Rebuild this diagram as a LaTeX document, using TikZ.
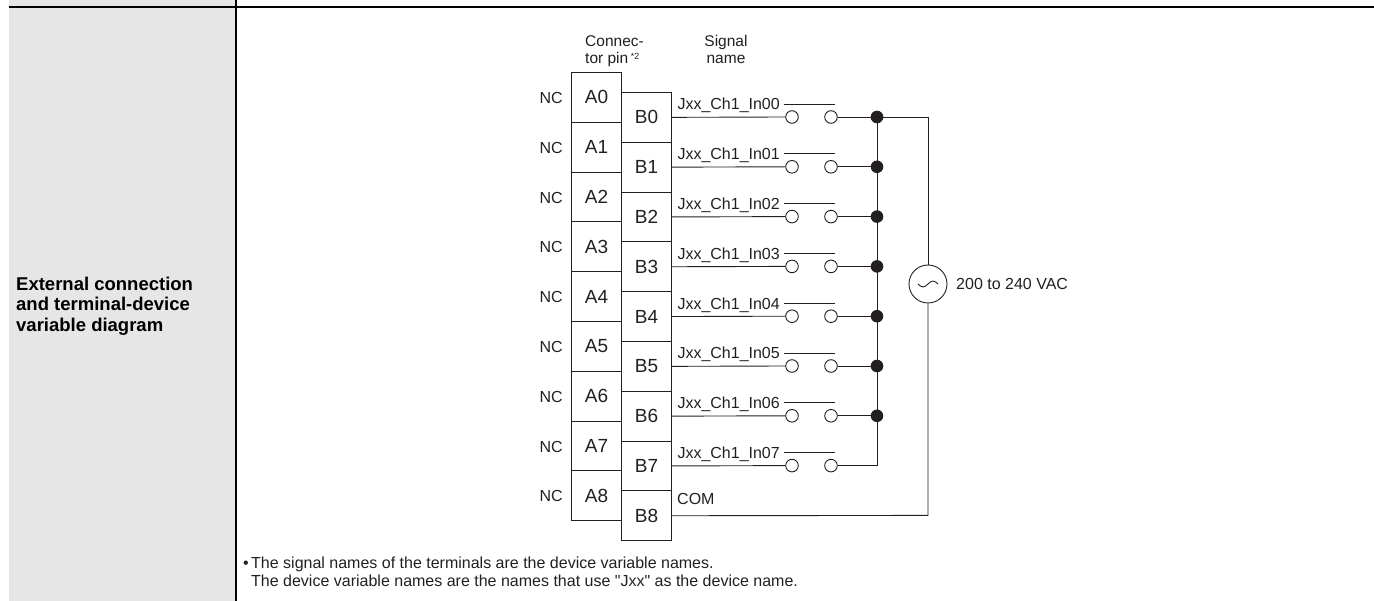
\documentclass[tikz,border=0pt]{standalone}
\usepackage{fontspec}
\setmainfont{Liberation Sans}[Ligatures=TeXOff]
\definecolor{panel}{HTML}{E6E6E6}
\definecolor{ink}{HTML}{231F20}
\begin{document}
\begin{tikzpicture}[x=1pt,y=-1pt,
  pinbox/.style={draw=ink,line width=0.9pt,minimum width=50pt,minimum height=49.8pt,inner sep=0pt,font=\fontsize{19}{19}\selectfont,text=ink},
  lbl/.style={inner sep=0pt,font=\fontsize{16}{16}\selectfont,text=ink},
  hdr/.style={inner sep=0pt,font=\fontsize{15.5}{15.5}\selectfont,text=ink},
  sw/.style={circle,draw=ink,fill=white,line width=0.9pt,minimum size=12.6pt,inner sep=0pt},
  jdot/.style={circle,fill=ink,minimum size=12.6pt,inner sep=0pt},
  wire/.style={draw=ink,line width=0.9pt}]
\useasboundingbox (0,0) rectangle (1374,601);
\fill[panel] (9,0) rectangle (235,601);
\draw[line width=1.2pt] (9,7) -- (1374,7);
\draw[line width=1.8pt] (236,0) -- (236,601);
% left title
\node[inner sep=0pt,anchor=west,align=left,font=\bfseries\fontsize{18.5}{20.5}\selectfont] (title) at (16,306) {External connection\\and terminal-device\\variable diagram};
% headers
\node[hdr,anchor=base west] (h1) at (585,47) {Connec-};
\node[hdr,anchor=base west] (h2) at (585,64) {tor pin\,\raisebox{4pt}{\fontsize{9}{9}\selectfont *2}};
\node[hdr,anchor=base] (h3) at (726,47) {Signal};
\node[hdr,anchor=base] (h4) at (726,64) {name};
% pins
\foreach \i in {0,...,8} {
  \node[pinbox,anchor=north west] (A\i) at (571,{72+49.8*\i}) {A\i};
  \node[pinbox,anchor=north west] (B\i) at (621,{92+49.8*\i}) {B\i};
  \node[lbl,anchor=east] (nc\i) at (563,{98+49.8*\i}) {NC};
}
% switches
\foreach \i in {0,...,7} {
  \pgfmathsetmacro{\yy}{117+49.8*\i}
  \node[sw] (p\i) at (792,\yy) {};
  \node[sw] (q\i) at (831,\yy) {};
  \node[lbl,anchor=base east] (j\i) at (780,\yy-7) {Jxx\_Ch1\_In0\i};
  \draw[wire] (B\i.east) -- (p\i.west);
  \draw[wire] ([xshift=-8pt,yshift=13pt]p\i.center) -- ([xshift=4pt,yshift=13pt]q\i.center);
  \coordinate (r\i) at (877,\yy);
  \draw[wire] (q\i.east) -- (r\i);
}
\foreach \i in {0,...,6} { \node[jdot] (d\i) at (r\i) {}; }
\draw[wire] (r0) -- (r7);
% supply
\node[circle,draw=ink,line width=0.9pt,minimum size=38pt,inner sep=0pt] (ac) at (928,284) {};
\draw[wire] ([xshift=-10pt]ac.center) sin ([xshift=-5pt,yshift=-3pt]ac.center) cos (ac.center) sin ([xshift=5pt,yshift=3pt]ac.center) cos ([xshift=10pt]ac.center);
\node[lbl,anchor=west] (vac) at (956,284) {200 to 240 VAC};
\coordinate (tr) at (928,117);
\coordinate (br) at (928,515.4);
\draw[wire] (r0) -- (tr) -- (ac.north);
\draw[wire] (ac.south) -- (br) -- (B8.east);
\node[lbl,anchor=base west] (com) at (677,504) {COM};
% note
\node[lbl,anchor=base west] (bul) at (243,568) {\textbullet};
\node[lbl,anchor=base west] (note1) at (251,568) {The signal names of the terminals are the device variable names.};
\node[lbl,anchor=base west] (note2) at (251,586) {The device variable names are the names that use "Jxx" as the device name.};
\end{tikzpicture}
\end{document}
